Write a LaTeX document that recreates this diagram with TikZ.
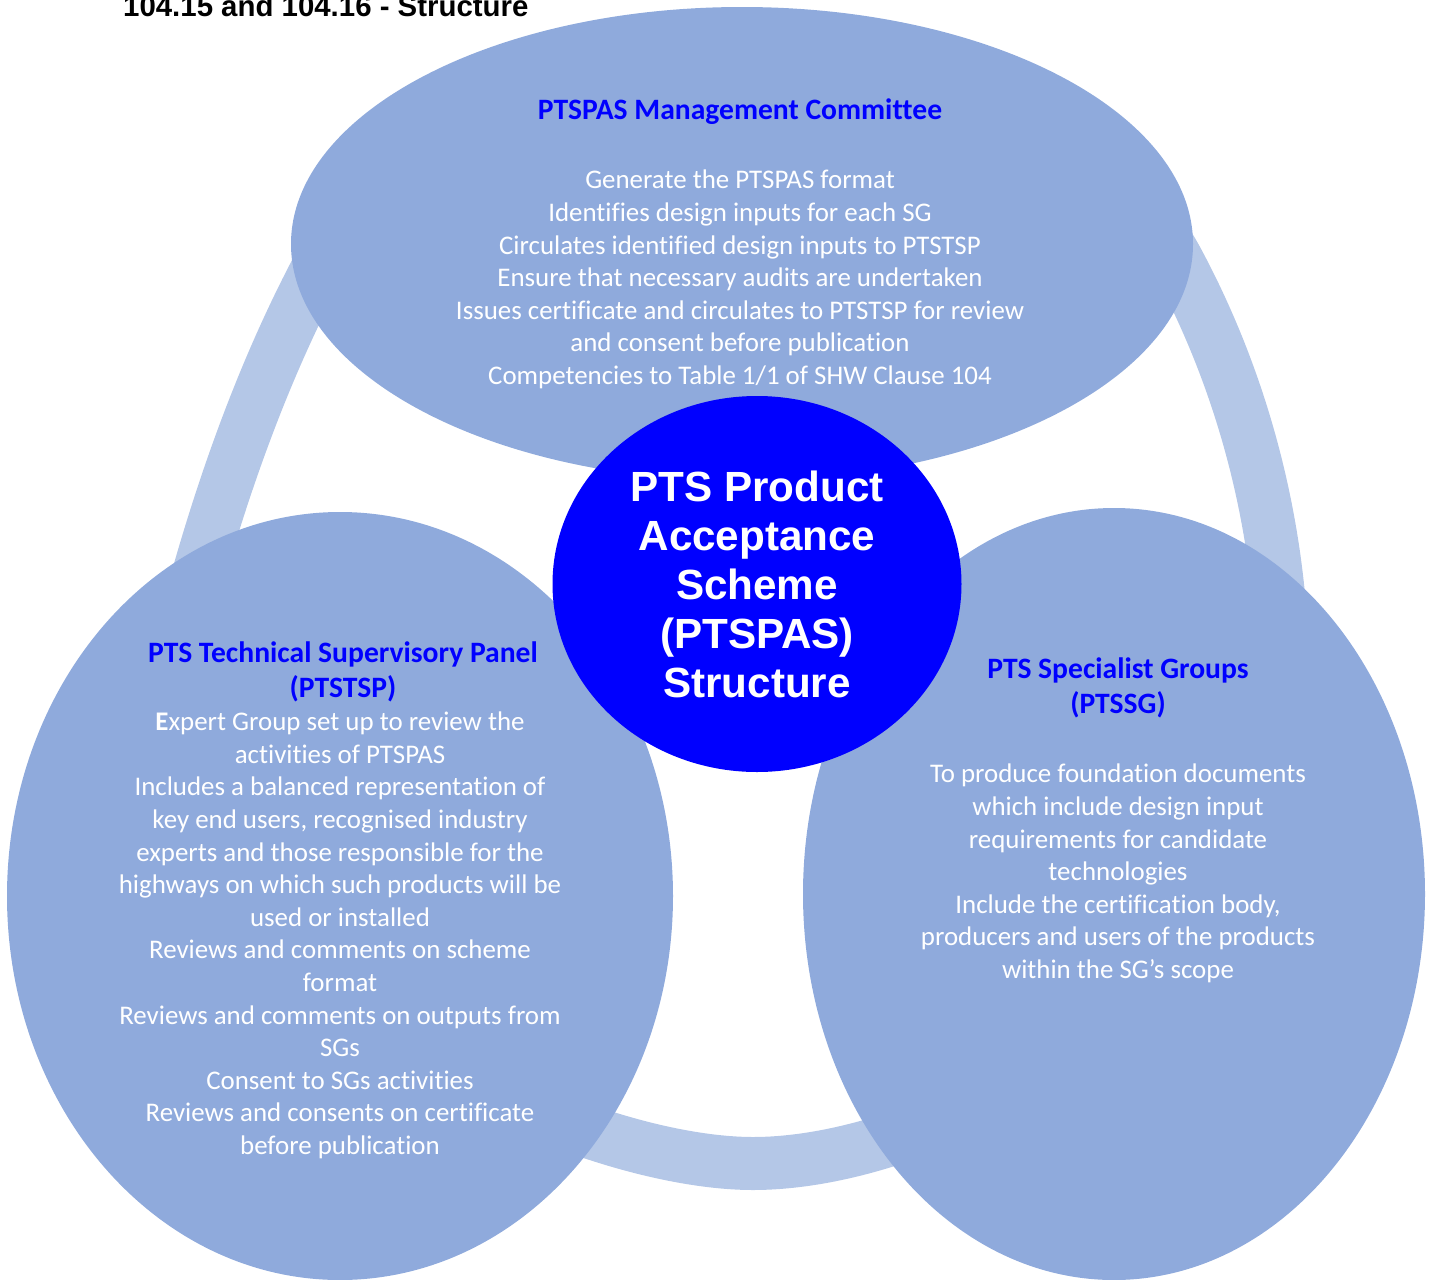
\documentclass[tikz,border=0pt]{standalone}
\usepackage{fontspec}
\usetikzlibrary{shapes.geometric}
\setmainfont{Carlito}[Ligatures=CommonOff]
\newfontfamily\arialfont{Liberation Sans}
\definecolor{ellfill}{HTML}{8FAADC}
\definecolor{ringcol}{HTML}{B4C7E7}
\definecolor{titleblue}{HTML}{0000FF}
\begin{document}
\begin{tikzpicture}[x=1pt,y=-1pt,
  bubble/.style={fill=ellfill,draw=none},
  band/.style={draw=ringcol,line width=53pt,line join=round},
  bodytext/.style={text=white,align=center,font=\fontsize{26.9}{32.6}\selectfont,inner sep=0pt},
  headtext/.style={text=titleblue,align=center,font=\bfseries\fontsize{29.6}{35}\selectfont,inner sep=0pt},
  coretext/.style={text=white,align=center,font=\arialfont\bfseries\fontsize{42.2}{49}\selectfont,inner sep=0pt}
]
\useasboundingbox (0,0) rectangle (1433,1280);
% ring (rounded band behind the three bubbles)
\coordinate (rA) at (742,88);
\coordinate (rB) at (1178,262);
\coordinate (rC) at (1278,590);
\coordinate (rE) at (753,1163.5);
\coordinate (rF) at (196,583);
\coordinate (rG) at (321,262);
\draw[band] (rA) .. controls (992,88) and (1122,156) .. (rB)
  .. controls (1232,363) and (1266,475) .. (rC)
  .. controls (1316,970) and (953,1163.5) .. (rE)
  .. controls (553,1163.5) and (93,948) .. (rF)
  .. controls (227,473) and (267,363) .. (rG)
  .. controls (377,156) and (492,88) .. (rA) -- cycle;
% bubbles
\fill[bubble] (742,244) ellipse [x radius=451, y radius=237];
\fill[bubble] (340,896) ellipse [x radius=333, y radius=384];
\fill[bubble] (1114,894) ellipse [x radius=311, y radius=386];
% center circle
\node[fill=titleblue,ellipse,minimum width=409pt,minimum height=376pt,inner sep=0pt,draw=none] (core) at (757,584) {};
% page title
\node[anchor=base west,inner sep=0pt,font=\arialfont\bfseries\fontsize{29.4}{34}\selectfont] (pagetitle) at (123,16) {104.15 and 104.16 - Structure};
% core text
\node[coretext] (coretxt) at (757,584) {PTS Product\\Acceptance\\Scheme\\(PTSPAS)\\Structure};
% top
\node[headtext] (tophead) at (740,112) {PTSPAS Management Committee};
\node[bodytext] (topbody) at (740,279.5) {Generate the PTSPAS format\\Identifies design inputs for each SG\\Circulates identified design inputs to PTSTSP\\Ensure that necessary audits are undertaken\\Issues certificate and circulates to PTSTSP for review\\and consent before publication\\Competencies to Table 1/1 of SHW Clause 104};
% left
\node[headtext] (lefthead) at (343,671.5) {PTS Technical Supervisory Panel\\(PTSTSP)};
\node[bodytext] (leftbody) at (340,935.5) {\textbf{E}xpert Group set up to review the\\activities of PTSPAS\\Includes a balanced representation of\\key end users, recognised industry\\experts and those responsible for the\\highways on which such products will be\\used or installed\\Reviews and comments on scheme\\format\\Reviews and comments on outputs from\\SGs\\Consent to SGs activities\\Reviews and consents on certificate\\before publication};
% right
\node[headtext] (righthead) at (1118,687.5) {PTS Specialist Groups\\(PTSSG)};
\node[bodytext] (rightbody) at (1118,873.5) {To produce foundation documents\\which include design input\\requirements for candidate\\technologies\\Include the certification body,\\producers and users of the products\\within the SG’s scope};
\end{tikzpicture}
\end{document}
